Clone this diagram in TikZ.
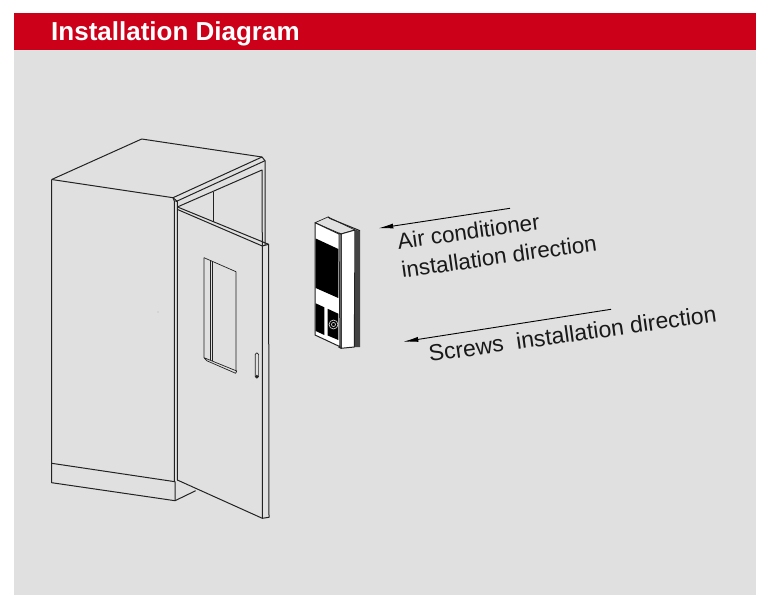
\documentclass[tikz,border=0pt]{standalone}
\usepackage{fontspec}
\usetikzlibrary{arrows.meta}
\setmainfont{Liberation Sans}
\definecolor{bannerred}{HTML}{CC0019}
\definecolor{panelgray}{HTML}{E0E0E0}
\definecolor{inkline}{HTML}{222222}
\tikzset{
    edgeline/.style={draw=inkline, line width=1pt, line join=round},
    thinline/.style={draw=inkline, line width=0.7pt, line join=round},
    grille/.style={fill=black, draw=none},
    pointer/.style={draw=black, line width=0.9pt, -{Latex[length=15pt,width=5pt]}},
    caption/.style={rotate=8, text=black!90, align=left, inner sep=0pt}
}
\begin{document}
\begin{tikzpicture}[x=1pt, y=-1pt]
            \useasboundingbox (0,0) rectangle (768,607);
            \fill[panelgray] (14,50) rectangle (756,595);
            \fill[bannerred] (14,13) rectangle (756,50.5);
            \node (title) [anchor=base west, inner sep=0pt, text=white, font=\fontsize{26}{30}\selectfont\bfseries] at (51,40.5) {Installation Diagram};
            % cabinet body
            \draw[edgeline] (51.7,179.5) -- (141.7,139) -- (262,157) -- (265,160.7) -- (265,245);
            \draw[edgeline] (51.7,179.5) -- (173,197.7) -- (262,157);
            \draw[edgeline] (175.7,201.7) -- (265,160.7);
            \draw[edgeline] (173,197.7) -- (174.3,201) -- (174.3,481.7);
            \draw[edgeline] (173,197.7) -- (177.3,201.5) -- (177.3,480);
            \draw[edgeline] (178,206.7) -- (262,170) -- (262.3,246);
            \draw[thinline] (213.3,191.7) -- (213.3,222);
            \draw[edgeline] (51.7,179.5) -- (51.7,482.7) -- (175,500.7) -- (195.7,490.7);
            \draw[edgeline] (51.7,463.3) -- (175,481.7) -- (175,500.7);
            % door
            \draw[edgeline] (178.3,207.3) -- (268.6,244.3) -- (269,517.3) -- (262.3,518.3) -- (177.3,480);
            \draw[edgeline] (177.5,209.5) -- (262.3,246) -- (262.3,518.3);
            \draw[edgeline] (262.3,246) -- (268.6,244.3);
            \draw[thinline] (204,257.7) -- (204,357.7) -- (236.7,371) -- (235.7,373.3) -- (206.7,360.7) -- (204,357.7);
            \draw[thinline] (204,257.7) -- (236,271.7) -- (236,371);
            \draw[thinline] (210,260.3) -- (210,359.5);
            \draw[thinline] (212,261.2) -- (212,360.5);
            \draw[thinline, rounded corners=1.5pt] (255.2,353) rectangle (258.6,378);
            \fill[inkline] (256.9,376.5) circle (1.8);
            \fill[inkline!70] (158,312) circle (0.4);
            % air conditioner
            \draw[thinline, fill=panelgray] (315,222.7) -- (328,217) -- (355,230) -- (341,234) -- cycle;
            \draw[edgeline, fill=white] (315,222.7) -- (339,234) -- (340,346.7) -- (315,335) -- cycle;
            \draw[edgeline, fill=white] (341,234) -- (355,230) -- (354.3,347) -- (341,348.3) -- cycle;
            \draw[edgeline] (338.6,233) -- (341,234) -- (341,348.3) -- (338.6,347);
            \fill[inkline!85] (355,230) -- (360,230.7) -- (360,347) -- (355,347) -- cycle;
            \draw[edgeline] (328,217) -- (330,218.5) -- (360,230.7);
            \draw[grille] (315.7,238.5) -- (338.3,249) -- (338.3,298) -- (315.7,288) -- cycle;
            \draw[grille] (315.7,303.3) -- (324.3,307.3) -- (324.3,335) -- (315.7,331) -- cycle;
            \draw[grille] (327.7,308.8) -- (338.3,313.7) -- (338.3,340) -- (327.7,335.5) -- cycle;
            \draw[draw=panelgray!60, line width=0.6pt] (333.5,324.5) circle (4.5);
            \draw[draw=panelgray!60, line width=0.6pt] (333.5,324.5) circle (2);
            % direction labels
            \coordinate (airtail) at (510,208.3);
            \coordinate (airhead) at (378.3,228.3);
            \coordinate (screwtail) at (611,309.3);
            \coordinate (screwhead) at (403.3,341.7);
            \draw[pointer] (airtail) -- (airhead);
            \draw[pointer] (screwtail) -- (screwhead);
            \node (airlabel) [caption, font=\fontsize{22.4}{29}\selectfont] at (497,242) {Air conditioner\\installation direction};
            \node (screwlabel) [caption, font=\fontsize{23}{29}\selectfont] at (572.5,333.5) {Screws\ \ installation direction};
        \end{tikzpicture}
\end{document}
